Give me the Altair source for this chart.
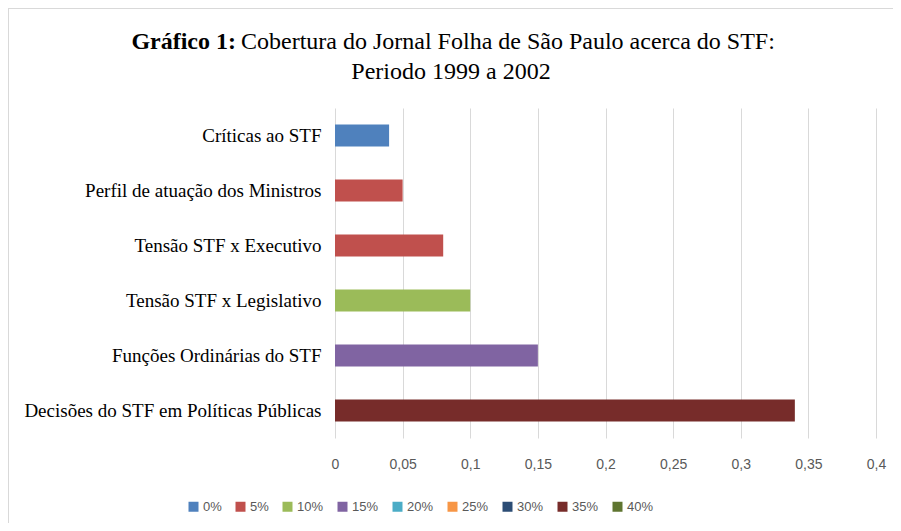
import altair as alt
import pandas as pd

categorias = [
    "Críticas ao STF",
    "Perfil de atuação dos Ministros",
    "Tensão STF x Executivo",
    "Tensão STF x Legislativo",
    "Funções Ordinárias do STF",
    "Decisões do STF em Políticas Públicas",
]
valores = [0.04, 0.05, 0.08, 0.10, 0.15, 0.34]
serie_barra = ["0%", "5%", "5%", "10%", "15%", "35%"]

legenda = ["0%", "5%", "10%", "15%", "20%", "25%", "30%", "35%", "40%"]
cores = ["#4F81BD", "#C0504D", "#9BBB59", "#8064A2", "#4BACC6",
         "#F79646", "#2C4D75", "#772C2A", "#5F7530"]

ticks_x = [0, 0.05, 0.1, 0.15, 0.2, 0.25, 0.3, 0.35, 0.4]

titulo_negrito = "Gráfico 1:"
titulo_resto = "Cobertura do Jornal Folha de São Paulo acerca do STF:"
titulo_linha2 = "Periodo 1999 a 2002"

df = pd.DataFrame({"categoria": categorias, "valor": valores, "serie": serie_barra})

serif = "Liberation Serif"
sans = "Liberation Sans"

bars = alt.Chart(df).mark_bar(size=22).encode(
    y=alt.Y("categoria:N", sort=categorias, title=None,
            axis=alt.Axis(labelFont=serif, labelFontSize=19, labelColor="#000000",
                          domain=False, ticks=False, labelPadding=14, labelLimit=400)),
    x=alt.X("valor:Q", title=None,
            scale=alt.Scale(domain=[0, 0.4], nice=False),
            axis=alt.Axis(values=ticks_x, grid=True, gridColor="#d9d9d9", domain=False,
                          ticks=False, labelFont=sans, labelFontSize=14, labelColor="#595959",
                          labelPadding=19, labelFlush=False, labelOverlap=False,
                          labelExpr="replace(format(datum.value, ''), '.', ',')")),
    color=alt.Color("serie:N", title=None,
                    scale=alt.Scale(domain=legenda, range=cores),
                    legend=alt.Legend(orient="none", legendX=-148, legendY=392,
                                      direction="horizontal", columns=9,
                                      symbolType="square", symbolSize=100,
                                      symbolStrokeWidth=0, labelFont=sans,
                                      labelFontSize=13, labelColor="#595959",
                                      columnPadding=12, labelOffset=3)),
)

t1 = alt.Chart(pd.DataFrame({"t": [titulo_negrito]})).mark_text(
    font=serif, fontSize=24, fontWeight="bold", align="right", baseline="middle",
    color="#000000").encode(text="t:N", x=alt.value(-99), y=alt.value(-66))
t2 = alt.Chart(pd.DataFrame({"t": [titulo_resto]})).mark_text(
    font=serif, fontSize=24, align="left", baseline="middle",
    color="#000000").encode(text="t:N", x=alt.value(-94), y=alt.value(-66))
t3 = alt.Chart(pd.DataFrame({"t": [titulo_linha2]})).mark_text(
    font=serif, fontSize=24, align="center", baseline="middle",
    color="#000000").encode(text="t:N", x=alt.value(116), y=alt.value(-36))

borda_topo = alt.Chart(pd.DataFrame({"t": [0]})).mark_rule(color="#d9d9d9").encode(
    x=alt.value(-327), x2=alt.value(560), y=alt.value(-99.5))
borda_esq = alt.Chart(pd.DataFrame({"t": [0]})).mark_rule(color="#d9d9d9").encode(
    x=alt.value(-326.5), y=alt.value(-100), y2=alt.value(420))

chart = alt.layer(bars, t1, t2, t3, borda_topo, borda_esq).properties(
    width=541, height=330,
    autosize=alt.AutoSizeParams(type="none"),
    padding={"left": 327, "top": 100, "right": 17, "bottom": 85},
).configure_view(stroke=None)

chart.save("out.html", embed_options={"renderer": "svg", "actions": False})
